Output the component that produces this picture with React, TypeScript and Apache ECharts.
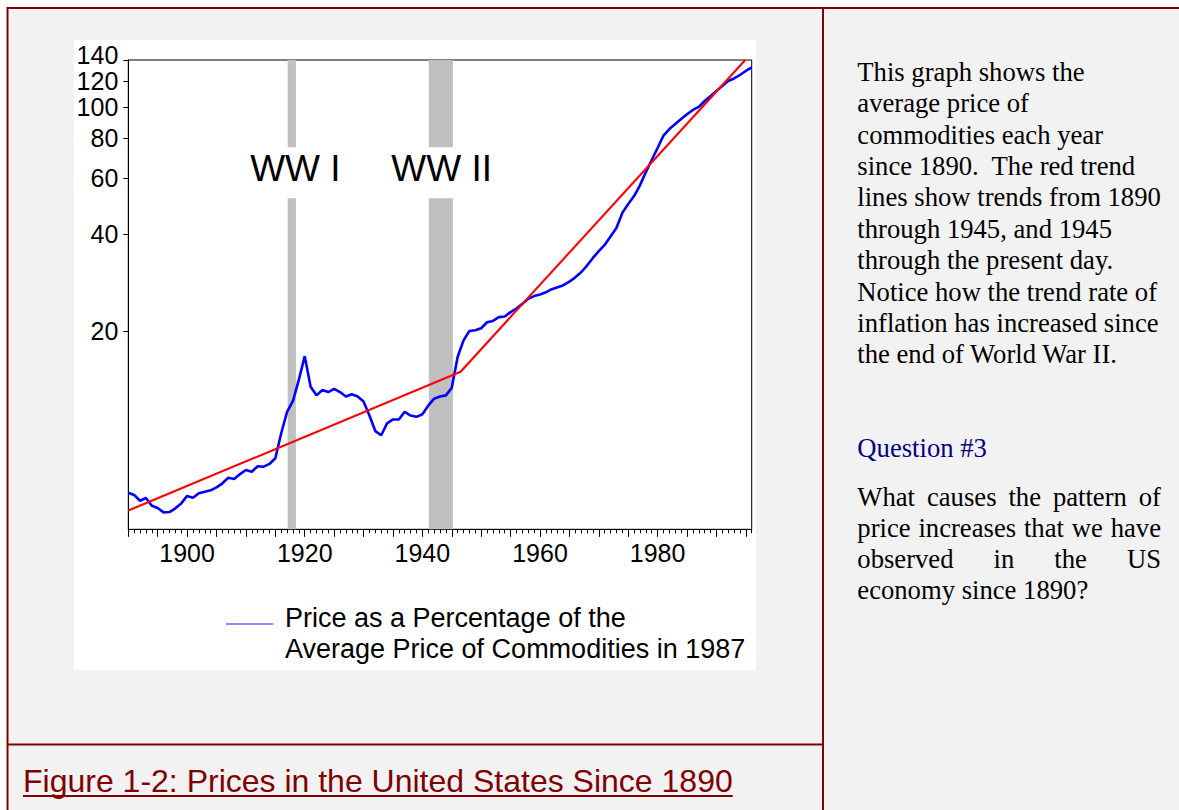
import React, { useEffect, useRef } from 'react';
import * as echarts from 'echarts';

// ---------- data ----------
const years: number[] = Array.from({ length: 107 }, (_, i) => 1890 + i);
const priceIndex: number[] = [
  6.26, 6.16, 5.91, 6.03, 5.7, 5.61, 5.44, 5.45, 5.6, 5.8, // 1890-1899
  6.12, 6.04, 6.24, 6.31, 6.37, 6.51, 6.7, 6.97, 6.91, 7.16, // 1900-1909
  7.37, 7.28, 7.57, 7.55, 7.7, 8.02, 9.6, 11.2, 12.1, 14.1, // 1910-1919
  16.7, 13.4, 12.6, 13.1, 12.9, 13.2, 12.9, 12.5, 12.7, 12.5, // 1920-1929
  12.06, 10.9, 9.75, 9.46, 10.3, 10.6, 10.6, 11.2, 10.9, 10.8, // 1930-1939
  11.0, 11.7, 12.3, 12.5, 12.6, 13.3, 16.6, 18.7, 20.0, 20.1, // 1940-1949
  20.4, 21.3, 21.5, 22.1, 22.2, 22.9, 23.5, 24.3, 25.2, 25.7, // 1950-1959
  26.0, 26.4, 27.0, 27.4, 27.8, 28.5, 29.4, 30.5, 32.0, 33.8, // 1960-1969
  35.5, 37.1, 39.4, 41.9, 46.7, 49.8, 52.7, 56.9, 62.6, 68.3, // 1970-1979
  74.4, 81.4, 85.3, 88.4, 91.7, 94.8, 97.8, 100, 104.3, 108.1, // 1980-1989
  112.1, 116.2, 120.4, 122.6, 125.7, 129.4, 132.7, // 1990-1996
];
const trendYears: number[] = [1890, 1946.5, 1994.9];
const trendValues: number[] = [5.51, 14.93, 140];
const warLabels: string[] = ['WW I', 'WW II'];
const warStarts: number[] = [1917.1, 1941.1];
const warEnds: number[] = [1918.5, 1945.2];
const yTickValues: number[] = [20, 40, 60, 80, 100, 120, 140];
const yMin = 4.816;
const yMax = 140;
const xLabelYears: number[] = [1900, 1920, 1940, 1960, 1980];
const fiveYearTicks: number[] = years.filter((y) => y % 5 === 0);

const seriesName = 'Price as a Percentage of the Average Price of Commodities in 1987';
const legendLine1 = 'Price as a Percentage of the';
const legendLine2 = 'Average Price of Commodities in 1987';
const figureTitle = 'Figure 1-2: Prices in the United States Since 1890';
const introText = [
  'This graph shows the',
  'average price of',
  'commodities each year',
  'since 1890.  The red trend',
  'lines show trends from 1890',
  'through 1945, and 1945',
  'through the present day.',
  'Notice how the trend rate of',
  'inflation has increased since',
  'the end of World War II.',
];
const questionTitle = 'Question #3';
const questionLines = [
  'What causes the pattern of',
  'price increases that we have',
  'observed in the US',
  'economy since 1890?',
];

const SANS = '"Liberation Sans", Arial, Helvetica, sans-serif';
const SERIF = '"Liberation Serif", "Times New Roman", Times, serif';
const DARK_RED = '#800000';

function measure(text: string, font: string): number {
  const c = document.createElement('canvas');
  const ctx = c.getContext('2d');
  if (!ctx) return text.length * 10;
  ctx.font = font;
  return ctx.measureText(text).width;
}

const labelRich = {
  up: { fontSize: 25, fontFamily: SANS, color: '#000', padding: [0, 0, 10, 0] },
};

function makeYAxis(values: number[], showLine: boolean) {
  const logs = values.map((v) => Math.log10(v));
  return {
    type: 'value',
    position: 'left',
    offset: 0,
    min: Math.log10(yMin),
    max: Math.log10(yMax),
    axisLine: { show: showLine, onZero: false, lineStyle: { color: '#000', width: 1 } },
    axisTick: { show: true, customValues: logs, length: 5, lineStyle: { color: '#000', width: 1 } },
    axisLabel: {
      customValues: logs,
      formatter: (v: number) => {
        const n = Math.round(Math.pow(10, v));
        // 140 nearly touches 120 in the original: lift it a little
        if (n === 140) return `{up|${n}}`;
        return String(n);
      },
      rich: labelRich,
      showMaxLabel: true,
      showMinLabel: true,
      margin: 10,
      fontSize: 25,
      color: '#000',
      fontFamily: SANS,
    },
    splitLine: { show: false },
  };
}

function buildOption() {
  const serifSize = 26.67;
  const serifFont = `${serifSize}px ${SERIF}`;
  const textLeft = 857.3;
  const textRight = 1161;
  const graphics: any[] = [];

  // page frame
  graphics.push({ type: 'rect', z: -10, silent: true, shape: { x: 7, y: 7, width: 1172, height: 803 }, style: { fill: '#f2f2f2' } });
  graphics.push({ type: 'rect', z: -9, silent: true, shape: { x: 74, y: 40, width: 682, height: 630 }, style: { fill: '#ffffff' } });
  const frameLines = [
    [7, 8, 1179, 8],
    [7.5, 7, 7.5, 810],
    [823, 7, 823, 810],
    [7, 744.5, 823, 744.5],
  ];
  frameLines.forEach(([x1, y1, x2, y2]) =>
    graphics.push({ type: 'line', z: 10, silent: true, shape: { x1, y1, x2, y2 }, style: { stroke: DARK_RED, lineWidth: 2 } })
  );

  // title underline
  const titleWidth = measure(figureTitle, `32px ${SANS}`);
  graphics.push({ type: 'line', z: 10, silent: true, shape: { x1: 23, y1: 796, x2: 23 + titleWidth, y2: 796 }, style: { stroke: DARK_RED, lineWidth: 2 } });

  // right panel
  graphics.push({
    type: 'text', z: 10, silent: true, x: textLeft, y: 56.4,
    style: { text: introText.join('\n'), fontSize: serifSize, fontFamily: SERIF, fill: '#000', lineHeight: 31.35, verticalAlign: 'top', align: 'left' },
  });
  graphics.push({
    type: 'text', z: 10, silent: true, x: textLeft, y: 448.4,
    style: { text: questionTitle, fontSize: serifSize, fontFamily: SERIF, fill: '#000080', verticalAlign: 'middle', align: 'left' },
  });
  questionLines.forEach((line, li) => {
    const cy = 496.8 + 30.95 * li;
    if (li === questionLines.length - 1) {
      graphics.push({
        type: 'text', z: 10, silent: true, x: textLeft, y: cy,
        style: { text: line, fontSize: serifSize, fontFamily: SERIF, fill: '#000', verticalAlign: 'middle', align: 'left' },
      });
      return;
    }
    const words = line.split(' ');
    const widths = words.map((w) => measure(w, serifFont));
    const total = widths.reduce((a, b) => a + b, 0);
    const gap = (textRight - textLeft - total) / (words.length - 1);
    let x = textLeft;
    words.forEach((w, wi) => {
      graphics.push({
        type: 'text', z: 10, silent: true, x, y: cy,
        style: { text: w, fontSize: serifSize, fontFamily: SERIF, fill: '#000', verticalAlign: 'middle', align: 'left' },
      });
      x += widths[wi] + gap;
    });
  });

  const warShift = [3.6, 0.8];

  return {
    animation: false,
    backgroundColor: '#ffffff',
    textStyle: { fontFamily: SANS },
    title: {
      text: figureTitle,
      left: 23,
      top: 765.2,
      padding: 0,
      textStyle: { fontSize: 32, fontWeight: 'normal', color: DARK_RED, fontFamily: SANS, lineHeight: 32 },
    },
    legend: {
      data: [{ name: seriesName, icon: 'rect', itemStyle: { color: '#6a6aff' } }],
      left: 226,
      top: 584,
      padding: 0,
      itemWidth: 47,
      itemHeight: 1.5,
      selectedMode: false,
      formatter: () => `{pad| }\n{t|${legendLine1}}\n{t|${legendLine2}}`,
      textStyle: {
        fontSize: 27,
        fontFamily: SANS,
        color: '#000',
        rich: {
          pad: { fontSize: 2, lineHeight: 18, height: 18 },
          t: { fontSize: 27, fontFamily: SANS, color: '#000', lineHeight: 31, padding: [0, 0, 0, 7] },
        },
      },
    },
    grid: {
      left: 128.3,
      top: 60,
      right: 427.3,
      bottom: 280.7,
      show: true,
      borderColor: '#000',
      borderWidth: 1,
      backgroundColor: '#ffffff',
    },
    xAxis: [
      {
        type: 'value',
        min: 1890,
        max: 1996,
        position: 'bottom',
        axisLine: { show: true, onZero: false, lineStyle: { color: '#000', width: 1 } },
        axisTick: { show: true, customValues: years, length: 4, lineStyle: { color: '#000', width: 1 } },
        axisLabel: {
          customValues: xLabelYears,
          formatter: (v: number) => String(Math.round(v)),
          margin: 11,
          fontSize: 25,
          color: '#000',
          fontFamily: SANS,
        },
        splitLine: { show: false },
      },
      {
        type: 'value',
        min: 1890,
        max: 1996,
        position: 'bottom',
        axisLine: { show: false, onZero: false },
        axisTick: { show: true, customValues: fiveYearTicks, length: 7.5, lineStyle: { color: '#000', width: 1 } },
        axisLabel: { show: false },
        splitLine: { show: false },
      },
    ],
    // 120 and 140 sit on their own (overlaid) axes so neither is dropped as overlapping its neighbour
    yAxis: [
      makeYAxis(yTickValues.slice(0, 5), true),
      makeYAxis(yTickValues.slice(5, 6), false),
      makeYAxis(yTickValues.slice(6), false),
    ],
    series: [
      {
        name: seriesName,
        type: 'line',
        xAxisIndex: 0,
        yAxisIndex: 0,
        z: 3,
        data: years.map((y, i) => [y, Math.log10(priceIndex[i])]),
        symbol: 'none',
        showSymbol: false,
        lineStyle: { color: '#0000ff', width: 2.6 },
        itemStyle: { color: '#0000ff' },
        markArea: {
          silent: true,
          itemStyle: { color: '#c0c0c0', opacity: 1 },
          label: {
            show: true,
            position: 'insideTop',
            distance: 0,
            formatter: '{b}',
            fontSize: 37,
            fontFamily: SANS,
            color: '#000',
            backgroundColor: '#ffffff',
            lineHeight: 37,
            padding: [3, 4, 11, 4],
          },
          data: warLabels.map((label, i) => [
            { name: label, xAxis: warStarts[i], label: { offset: [warShift[i], 87.3] } },
            { xAxis: warEnds[i] },
          ]),
        },
      },
      {
        name: 'Trend',
        type: 'line',
        xAxisIndex: 0,
        yAxisIndex: 0,
        z: 4,
        data: trendYears.map((y, i) => [y, Math.log10(trendValues[i])]),
        symbol: 'none',
        showSymbol: false,
        lineStyle: { color: '#ff0000', width: 2.1 },
        itemStyle: { color: '#ff0000' },
      },
    ],
    graphic: { elements: graphics },
  };
}

export default function App() {
  const ref = useRef<HTMLDivElement>(null);
  useEffect(() => {
    document.body.style.margin = '0';
    if (!ref.current) return;
    const chart = echarts.init(ref.current, null, { renderer: 'svg' });
    chart.setOption(buildOption() as any);
    return () => chart.dispose();
  }, []);
  return <div ref={ref} style={{ width: 1179, height: 810 }} />;
}
